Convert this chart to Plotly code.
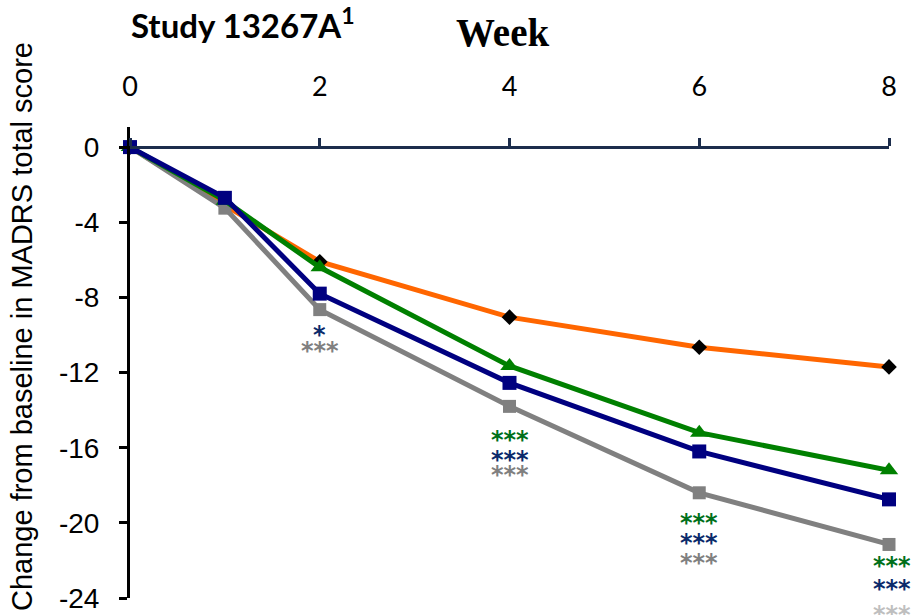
import plotly.graph_objects as go

weeks = [0, 1, 2, 4, 6, 8]
placebo = [0, -3.1, -6.1, -9.05, -10.65, -11.7]
green_series = [0, -2.85, -6.4, -11.65, -15.2, -17.2]
navy_series = [0, -2.7, -7.8, -12.55, -16.2, -18.75]
gray_series = [0, -3.25, -8.65, -13.8, -18.4, -21.15]

x_ticks = [0, 2, 4, 6, 8]
y_ticks = [0, -4, -8, -12, -16, -20, -24]

# significance labels: week, text, colour, vertical placement (data units)
sig_weeks = [2, 2, 4, 4, 4, 6, 6, 6, 8, 8, 8]
sig_text = ["*", "***", "***", "***", "***", "***", "***", "***", "***", "***", "***"]
sig_color = ["#0B2A6B", "#808080", "#00701A", "#0B2A6B", "#808080",
             "#00701A", "#0B2A6B", "#808080", "#00701A", "#0B2A6B", "#BFBFBF"]
sig_y = [-9.74, -10.59, -15.33, -16.39, -17.19, -19.74, -20.81, -21.87,
         -22.03, -23.26, -24.64]

fig = go.Figure()

fig.add_trace(go.Scatter(
    x=weeks, y=placebo, mode="lines+markers",
    line=dict(color="#FF6600", width=5),
    marker=dict(symbol="diamond", size=12, color="black"),
    cliponaxis=False, showlegend=False))
fig.add_trace(go.Scatter(
    x=weeks, y=gray_series, mode="lines+markers",
    line=dict(color="#808080", width=5),
    marker=dict(symbol="square", size=13, color="#808080"),
    cliponaxis=False, showlegend=False))
fig.add_trace(go.Scatter(
    x=weeks, y=green_series, mode="lines+markers",
    line=dict(color="#008000", width=5),
    marker=dict(symbol="triangle-up", size=16, color="#008000"),
    cliponaxis=False, showlegend=False))
fig.add_trace(go.Scatter(
    x=weeks, y=navy_series, mode="lines+markers",
    line=dict(color="#000080", width=5),
    marker=dict(symbol="square", size=14, color="#000080"),
    cliponaxis=False, showlegend=False))

ymin, ymax = -24, 1.07
annotations = []
for wk, t, c, yy in zip(sig_weeks, sig_text, sig_color, sig_y):
    annotations.append(dict(
        x=wk, y=(yy - ymin) / (ymax - ymin), xref="x", yref="paper",
        text=t, showarrow=False,
        xanchor="center", yanchor="middle", yshift=-5,
        xshift=3 if wk == 8 else 0,
        font=dict(family="DejaVu Sans", size=24, color=c, weight="bold")))

W, H = 911, 615
ml, mr, mt, mb = 130, 22, 127, 17
pw, ph = W - ml - mr, H - mt - mb

def px_x(px):
    return (px - ml) / pw

def px_y(py):
    return (H - mb - py) / ph

annotations.append(dict(
    x=px_x(129), y=px_y(23), xref="paper", yref="paper",
    text="Study 13267A<sup>1</sup>", showarrow=False,
    xanchor="left", yanchor="middle",
    font=dict(family="Lato", size=33, color="black", weight="bold")))
annotations.append(dict(
    x=px_x(502), y=px_y(32), xref="paper", yref="paper",
    text="Week", showarrow=False, xanchor="center", yanchor="middle",
    font=dict(family="Liberation Serif", size=39, color="black", weight="bold")))
annotations.append(dict(
    x=px_x(22), y=px_y(327), xref="paper", yref="paper",
    text="Change from baseline in MADRS total score", showarrow=False,
    textangle=-90, xanchor="center", yanchor="middle",
    font=dict(family="Liberation Sans", size=29, color="black")))

fig.update_layout(
    width=W, height=H,
    margin=dict(l=ml, r=mr, t=mt, b=mb, pad=0, autoexpand=False),
    plot_bgcolor="white", paper_bgcolor="white",
    annotations=annotations,
    xaxis=dict(
        range=[0, 8], side="top", anchor="free",
        position=(0 - ymin) / (ymax - ymin),
        tickvals=x_ticks, ticktext=[str(v) for v in x_ticks],
        ticks="outside", ticklen=8, tickwidth=3, tickcolor="#1C2D4C",
        showline=True, linecolor="#1C2D4C", linewidth=3,
        showgrid=False, zeroline=False, automargin=False,
        ticklabelstandoff=31,
        tickfont=dict(family="Lato", size=27, color="black")),
    yaxis=dict(
        range=[ymin, ymax],
        tickvals=y_ticks, ticktext=[str(v) for v in y_ticks],
        ticks="outside", ticklen=8, tickwidth=3, tickcolor="black",
        showline=True, linecolor="black", linewidth=3,
        showgrid=False, zeroline=False, automargin=False,
        ticklabelstandoff=14,
        tickfont=dict(family="Liberation Sans", size=28, color="black")),
)

fig.write_html("out.html", config={"displayModeBar": False},
               post_script="document.body.style.margin='0';")
